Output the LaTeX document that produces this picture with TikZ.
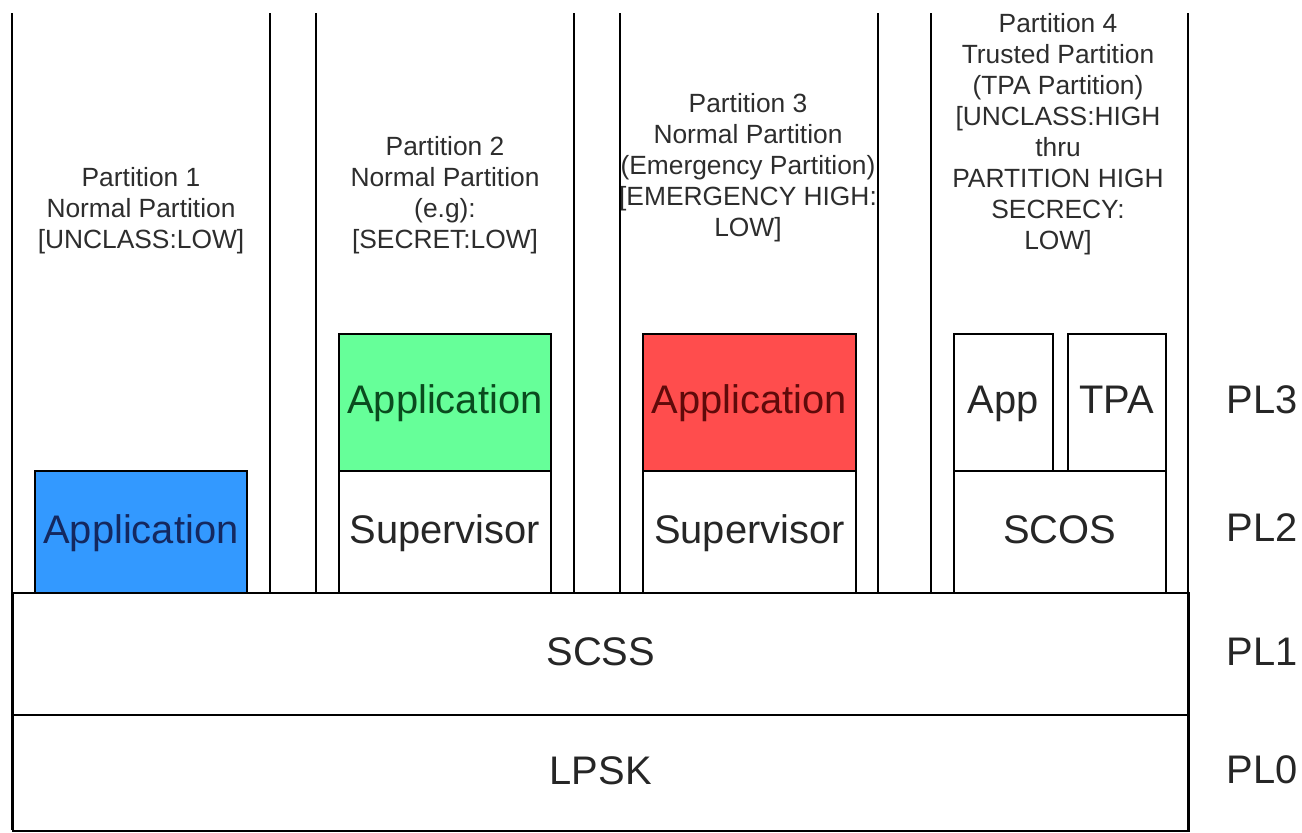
\documentclass[tikz,border=0pt]{standalone}
\usepackage{xcolor}
\usepackage{fontspec}
\setmainfont{Liberation Sans}
\usepackage{tikz}
\usetikzlibrary{
	positioning,
	calc
}
\definecolor{AppBlue}{RGB}{51,153,255}
\definecolor{AppGreen}{RGB}{102,255,153}
\definecolor{AppRed}{RGB}{255,77,77}
\definecolor{TxtBlue}{RGB}{20,40,95}
\definecolor{TxtGreen}{RGB}{10,75,30}
\definecolor{TxtRed}{RGB}{95,10,10}
\definecolor{TxtGray}{RGB}{45,45,45}

\begin{document}
\begin{tikzpicture}[x=0.02cm, y=-0.02cm, line width=1pt,
		box/.style={draw, anchor=north west, inner sep=0pt, text=black!85,
			text height=16.5pt, text depth=3.5pt,
			font=\fontsize{22.7}{26}\selectfont},
		plabel/.style={align=center, text=TxtGray, font=\fontsize{15}{17.6}\selectfont},
		level/.style={text=black!85, font=\fontsize{22.7}{26}\selectfont}]
		\useasboundingbox (0,0) rectangle (1302,832);
		
		% 分区标题
		\node[plabel] (p1) at (141,211) {Partition 1\\Normal Partition\\{[UNCLASS:LOW]}};
		\node[plabel] (p2) at (445,195) {Partition 2\\Normal Partition\\(e.g):\\{[SECRET:LOW]}};
		\node[plabel] (p3) at (748,168) {Partition 3\\Normal Partition\\(Emergency Partition)\\{[EMERGENCY HIGH:}\\LOW]};
		\node[plabel] (p4) at (1058,134) {Partition 4\\Trusted Partition\\(TPA Partition)\\{[UNCLASS:HIGH}\\thru\\PARTITION HIGH\\SECRECY:\\LOW]};
		
		% 分区边线
		\foreach \x in {270,316,574,620,878,931}
			\draw (\x,13) -- (\x,592);
		\draw (12,13) -- (12,830);
		\draw (1188,13) -- (1188,830);
		
		% PL3 / PL2
		\node[box, fill=AppBlue, text=TxtBlue, minimum width=4.24cm, minimum height=2.44cm] (app1) at (34,470) {Application};
		\node[box, fill=AppGreen, text=TxtGreen, minimum width=4.24cm, minimum height=2.74cm] (app2) at (338,333) {Application};
		\node[box, minimum width=4.24cm, minimum height=2.44cm] (sup2) at (338,470) {Supervisor};
		\node[box, fill=AppRed, text=TxtRed, minimum width=4.26cm, minimum height=2.74cm] (app3) at (642,333) {Application};
		\node[box, minimum width=4.26cm, minimum height=2.44cm] (sup3) at (642,470) {Supervisor};
		\node[box, minimum width=1.98cm, minimum height=2.74cm] (app4) at (953,333) {App};
		\node[box, minimum width=1.96cm, minimum height=2.74cm] (tpa) at (1067,333) {TPA};
		\node[box, minimum width=4.24cm, minimum height=2.44cm] (scos) at (953,470) {SCOS};
		
		% PL1 / PL0
		\node[box, minimum width=23.52cm, minimum height=2.44cm] (scss) at (12,592) {SCSS};
		\node[box, minimum width=23.52cm, minimum height=2.32cm] (lpsk) at (12,714) {LPSK};
		
		\node[level] (pl3) at (1262,400) {PL3};
		\node[level] (pl2) at (1262,528) {PL2};
		\node[level] (pl1) at (1262,652) {PL1};
		\node[level] (pl0) at (1262,770) {PL0};
	\end{tikzpicture}
\end{document}
